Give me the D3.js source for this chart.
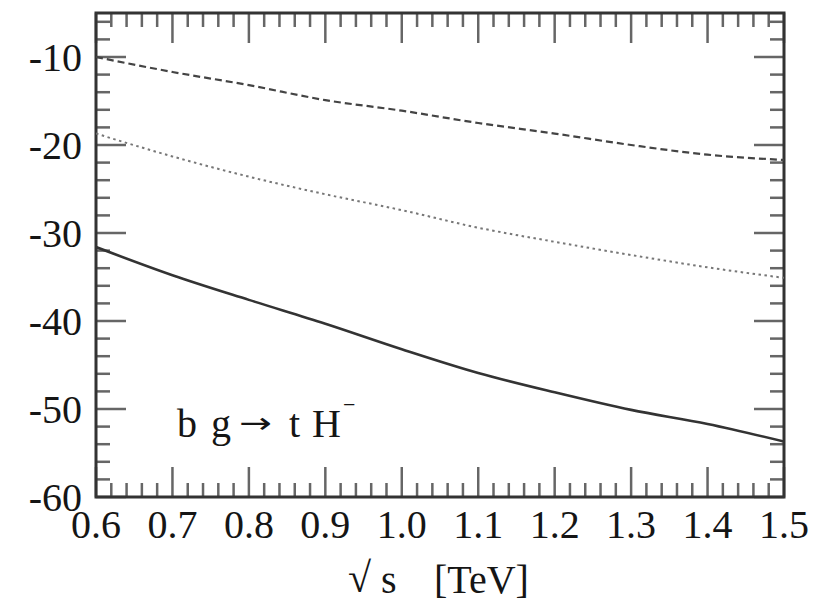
<!DOCTYPE html>
<html>
<head>
<meta charset="utf-8">
<script src="https://cdn.jsdelivr.net/npm/d3@7"></script>
<style>
  html, body { margin: 0; padding: 0; background: #fff; }
  svg { display: block; }
  text { font-family: "Liberation Serif", "Times New Roman", serif; fill: #151515; }
</style>
</head>
<body>
<svg id="chart" width="822" height="604"></svg>
<script>
// sqrt(s) in TeV
const energies = [0.6, 0.7, 0.8, 0.9, 1.0, 1.1, 1.2, 1.3, 1.4, 1.5];
// curves (dashed, dotted, solid)
const dashedValues = [-10.0, -11.7, -13.2, -14.9, -16.1, -17.5, -18.7, -20.0, -21.1, -21.7];
const dottedValues = [-18.7, -21.3, -23.6, -25.6, -27.4, -29.4, -31.0, -32.5, -33.9, -35.1];
const solidValues  = [-31.6, -34.8, -37.6, -40.3, -43.2, -45.9, -48.1, -50.1, -51.7, -53.7];

const xTickLabels = ["0.6", "0.7", "0.8", "0.9", "1.0", "1.1", "1.2", "1.3", "1.4", "1.5"];
const yTickValues = [-10, -20, -30, -40, -50, -60];
const yTickLabels = ["-10", "-20", "-30", "-40", "-50", "-60"];

const svg = d3.select("#chart");
const plotLeft = 96, plotRight = 784, plotTop = 13, plotBottom = 497;

const x = d3.scaleLinear().domain([0.6, 1.5]).range([plotLeft, plotRight]);
const y = d3.scaleLinear().domain([-60, -5]).range([plotBottom, plotTop]);

const tickColor = "#666";
const frameColor = "#333";

// minor / major ticks on all four sides
const xMinor = d3.range(0, 46).map(i => +(0.6 + i * 0.02).toFixed(2));
const xMajor = energies;
const yMinor = d3.range(0, 28).map(i => -60 + i * 2).filter(v => v <= -5);
const yMajor = yTickValues;

const ticks = svg.append("g").attr("stroke", tickColor).attr("stroke-width", 2.5);
const minorLen = 14, majorLen = 30;

xMinor.forEach(v => {
  const major = xMajor.some(m => Math.abs(m - v) < 1e-6);
  const len = major ? majorLen : minorLen;
  ticks.append("line").attr("x1", x(v)).attr("x2", x(v)).attr("y1", plotBottom).attr("y2", plotBottom - len);
  ticks.append("line").attr("x1", x(v)).attr("x2", x(v)).attr("y1", plotTop).attr("y2", plotTop + len);
});
yMinor.forEach(v => {
  const major = yMajor.includes(v);
  const len = major ? majorLen : minorLen;
  ticks.append("line").attr("y1", y(v)).attr("y2", y(v)).attr("x1", plotLeft).attr("x2", plotLeft + len);
  ticks.append("line").attr("y1", y(v)).attr("y2", y(v)).attr("x1", plotRight).attr("x2", plotRight - len);
});

// frame
svg.append("rect")
  .attr("x", plotLeft).attr("y", plotTop)
  .attr("width", plotRight - plotLeft).attr("height", plotBottom - plotTop)
  .attr("fill", "none").attr("stroke", frameColor).attr("stroke-width", 3);

// curves
svg.append("clipPath").attr("id", "plotArea")
  .append("rect").attr("x", plotLeft).attr("y", plotTop)
  .attr("width", plotRight - plotLeft).attr("height", plotBottom - plotTop);

const line = d3.line()
  .x((d, i) => x(energies[i]))
  .y(d => y(d))
  .curve(d3.curveMonotoneX);

const curves = svg.append("g").attr("clip-path", "url(#plotArea)").attr("fill", "none");
curves.append("path").attr("d", line(dashedValues))
  .attr("stroke", "#444").attr("stroke-width", 2.2).attr("stroke-dasharray", "7,4");
curves.append("path").attr("d", line(dottedValues))
  .attr("stroke", "#777").attr("stroke-width", 2).attr("stroke-dasharray", "2.5,3.5");
curves.append("path").attr("d", line(solidValues))
  .attr("stroke", "#333").attr("stroke-width", 2.6);

// tick labels
svg.append("g").selectAll("text").data(yTickValues).join("text")
  .attr("x", 82).attr("y", d => y(d) + 14)
  .attr("text-anchor", "end").attr("font-size", 40)
  .text((d, i) => yTickLabels[i]);

svg.append("g").selectAll("text").data(energies).join("text")
  .attr("x", d => x(d)).attr("y", 538)
  .attr("text-anchor", "middle").attr("font-size", 40)
  .text((d, i) => xTickLabels[i]);

// axis title: sqrt(s) [TeV]
const title = svg.append("g").attr("font-size", 40);
title.append("text").attr("x", 348).attr("y", 592).attr("font-size", 42).text("√");
title.append("text").attr("x", 381).attr("y", 593).text("s");
title.append("text").attr("x", 434).attr("y", 593).text("[TeV]");

// process label
const proc = svg.append("g").attr("font-size", 40);
proc.append("text").attr("x", 177).attr("y", 437).text("b");
proc.append("text").attr("x", 211).attr("y", 437).text("g");
proc.append("text")
  .attr("transform", "translate(239,433) scale(1.35,1)")
  .style("font-family", "'DejaVu Sans'").style("font-size", "29px").text("→");
proc.append("text").attr("x", 289).attr("y", 437).text("t");
proc.append("text").attr("x", 312).attr("y", 437).text("H");
proc.append("text").attr("x", 343).attr("y", 412).attr("font-size", 22).text("−");
</script>
</body>
</html>
